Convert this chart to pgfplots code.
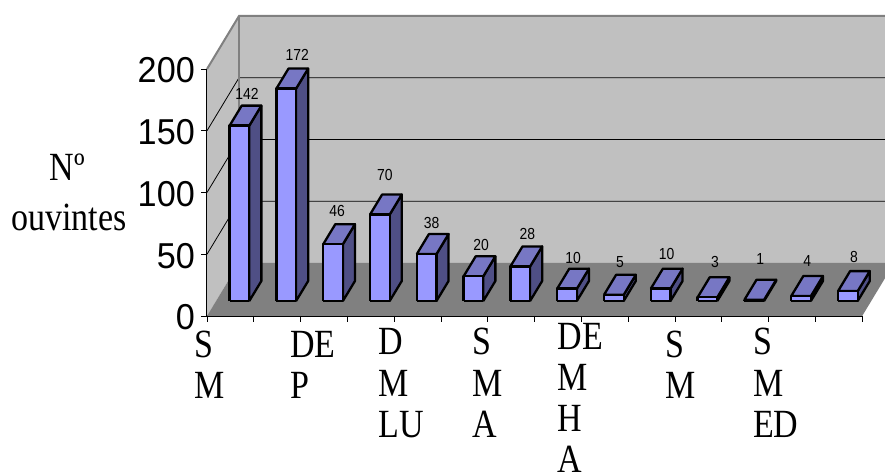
\documentclass[border=0pt]{standalone}
\usepackage{fontspec}
\setmainfont[FakeStretch=0.85]{Liberation Serif}
\setsansfont{Liberation Sans}
\newfontfamily\ticksans[FakeStretch=0.95]{Liberation Sans}
\newfontfamily\valsans[FakeStretch=0.87]{Liberation Sans}
\usepackage{pgfplots}
\pgfplotsset{compat=1.18}

% one multi-line category label: x offset, raise, stacked rows
\newcommand\rowt[1]{\hbox{#1}}
\newcommand\catlab[3]{\hspace*{#1pt}\raisebox{#2pt}{\vtop{\baselineskip=41pt\lineskiplimit=-1000pt\relax #3}}}

\definecolor{wallc}{HTML}{C0C0C0}
\definecolor{floorc}{HTML}{808080}
\definecolor{barfront}{HTML}{9999FF}
\definecolor{barside}{HTML}{4F4F85}
\definecolor{bartop}{HTML}{7777C4}

\pgfplotsset{
  barface/.style={draw=black, line width=2.3pt, line join=round, no marks},
  tickseg/.style={black, line width=0.9pt, no marks},
}
\tikzset{
  vallab/.style={font=\fontsize{16}{16}\valsans\selectfont, inner sep=0pt, anchor=center},
}

\begin{document}
\begin{tikzpicture}
\path[use as bounding box] (0,0) rectangle (885pt,473pt);
\clip (0,0) rectangle (885pt,473pt);
\begin{axis}[
  anchor=origin, at={(207pt,157pt)},
  x={(46.8pt,0pt)}, y={(32pt,53pt)}, z={(0pt,1.235pt)},
  xmin=0, xmax=14, ymin=0, ymax=1, zmin=0, zmax=200,
  clip=false,
  axis lines=left,
  axis line style={-, black, line width=1.2pt},
  y axis line style={draw=none},
  ytick=\empty,
  xtick={0,...,14},
  ztick={0,50,100,150,200},
  tick align=outside,
  major tick length=0pt,
  /pgf/number format/assume math mode=true,
  xticklabels={
    {\catlab{-13}{0}{\rowt{S}\rowt{M}}},,
    {\catlab{-10.6}{0}{\rowt{DE}\rowt{P}}},,
    {\catlab{-16}{3}{\rowt{D}\rowt{M}\rowt{LU}}},,
    {\catlab{-16}{3}{\rowt{S}\rowt{M}\rowt{A}}},,
    {\catlab{-24}{8}{\rowt{DE}\rowt{M}\rowt{H}\rowt{A}}},,
    {\catlab{-10}{0}{\rowt{S}\rowt{M}}},,
    {\catlab{-15.6}{3}{\rowt{S}\rowt{M}\rowt{ED}}},,
  },
  x tick label style={font=\fontsize{40}{40}\rmfamily\selectfont, anchor=base west, inner sep=0pt, yshift=-42pt, xshift=0pt},
  z tick label style={font=\fontsize{36}{36}\ticksans\selectfont, anchor=east, inner sep=0pt, xshift=-12pt, yshift=-1.5pt},
]
% walls and floor
\addplot3[fill=wallc, draw=none, no marks] coordinates {(0,1,0)(14,1,0)(14,1,200)(0,1,200)(0,1,0)};
\addplot3[fill=wallc, draw=none, no marks] coordinates {(0,0,0)(0,1,0)(0,1,200)(0,0,200)(0,0,0)};
\addplot3[fill=floorc, draw=none, no marks] coordinates {(0,0,0)(14,0,0)(14,1,0)(0,1,0)(0,0,0)};
% short tick segments: category axis downwards, value axis to the left
\foreach \t in {0,...,14} {
  \edef\temp{\noexpand\addplot3[tickseg] coordinates {(\t,0,0)(\t,0,-5)};}
  \temp
}
\foreach \g in {0,50,100,150,200} {
  \edef\temp{\noexpand\addplot3[tickseg] coordinates {(0,0,\g)(-0.128,0,\g)};}
  \temp
}
% gridlines along the side wall and the back wall
\foreach \g in {50,100,150} {
  \edef\temp{\noexpand\addplot3[black, line width=0.8pt, no marks] coordinates {(0,0,\g)(0,1,\g)(14,1,\g)};}
  \temp
}
\addplot3[floorc, line width=2pt, no marks] coordinates {(0,0,200)(0,1,200)(14,1,200)};
\addplot3[floorc, line width=2pt, no marks] coordinates {(0,1,0)(0,1,200)};
% bars: category, value, label shift x, label shift y
\foreach \i/\v/\dx/\dy in {
  0/142/-4.5/12, 1/172/-1/14, 2/46/-8/13, 3/70/-7/20, 4/38/-7/11, 5/20/-4.5/11, 6/28/-5/12,
  7/10/-6/11, 8/5/-6/13, 9/10/-6/15, 10/3/-4.5/15, 11/1/-6/21, 12/4/-6/15, 13/8/-6/14} {
  \pgfmathsetmacro\xa{\i+0.29}
  \pgfmathsetmacro\xb{\i+0.71}
  \pgfmathsetmacro\xc{\i+0.5}
  \edef\temp{
    \noexpand\addplot3[barface, fill=barside] coordinates {(\xb,0.283,0)(\xb,0.66,0)(\xb,0.66,\v)(\xb,0.283,\v)(\xb,0.283,0)};
    \noexpand\addplot3[barface, fill=bartop] coordinates {(\xa,0.283,\v)(\xb,0.283,\v)(\xb,0.66,\v)(\xa,0.66,\v)(\xa,0.283,\v)};
    \noexpand\addplot3[barface, fill=barfront] coordinates {(\xa,0.283,0)(\xb,0.283,0)(\xb,0.283,\v)(\xa,0.283,\v)(\xa,0.283,0)};
    \noexpand\node[vallab, xshift=\dx pt, yshift=\dy pt] at (axis cs:\xc,0.66,\v) {\v};
  }
  \temp
}
\end{axis}
\node[anchor=base, inner sep=0pt, font=\fontsize{40}{40}\selectfont] at (67pt,292pt) {Nº};
\node[anchor=base, inner sep=0pt, font=\fontsize{40}{40}\selectfont] at (69pt,242pt) {ouvintes};
\end{tikzpicture}
\end{document}
